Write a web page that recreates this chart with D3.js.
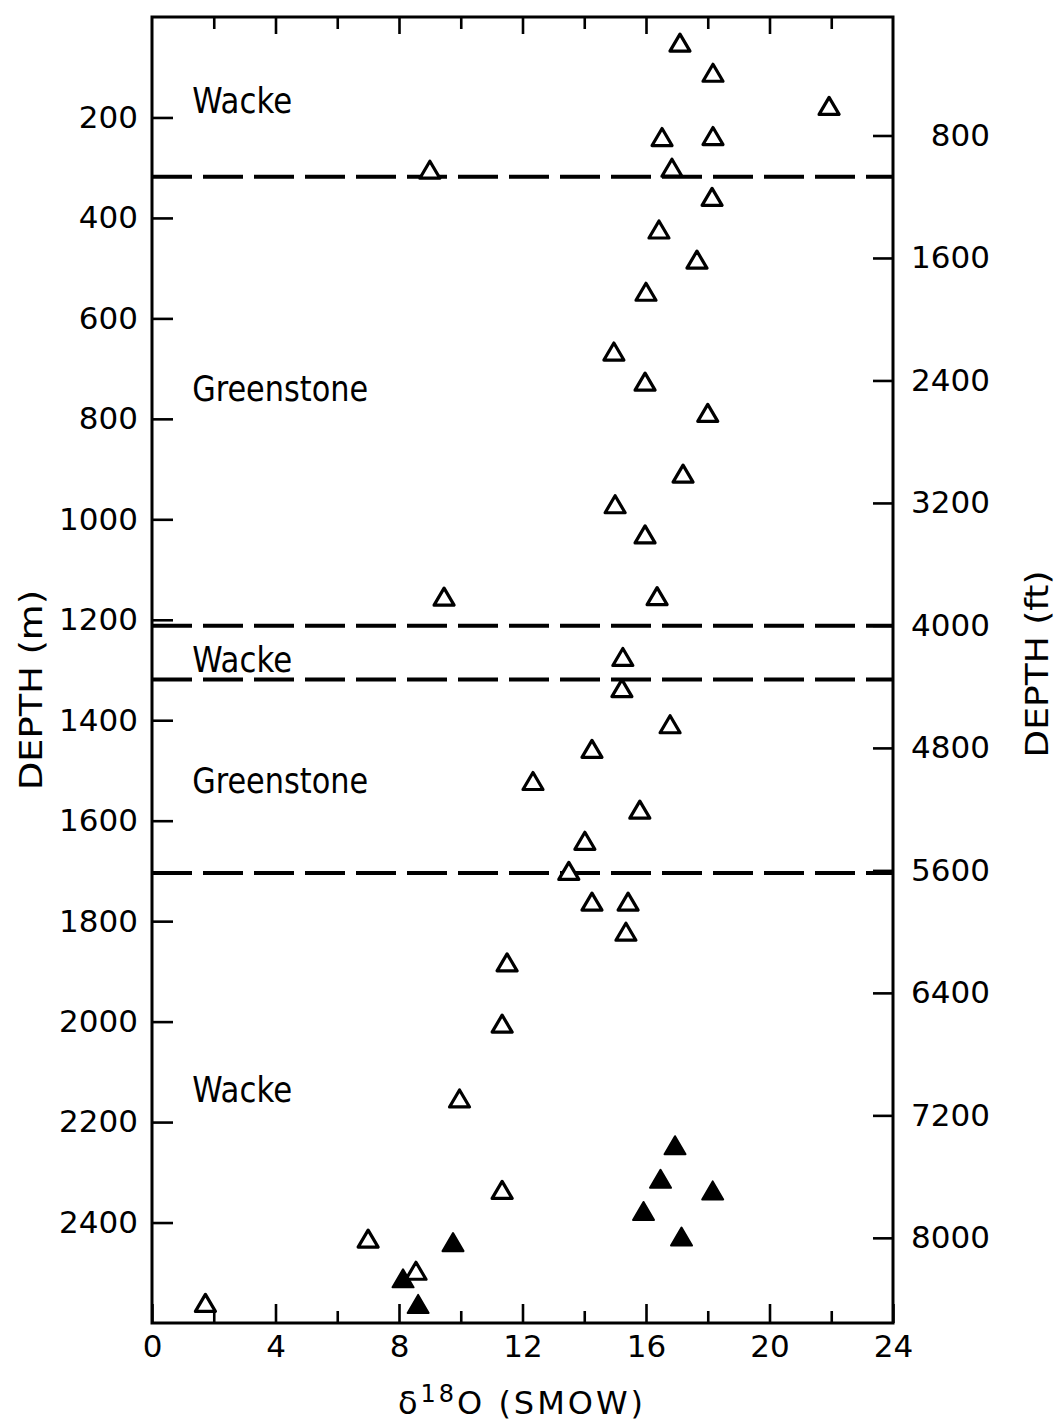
<!DOCTYPE html>
<html>
<head>
<meta charset="utf-8">
<script src="https://cdn.jsdelivr.net/npm/d3@7"></script>
<style>
  html, body { margin: 0; padding: 0; background: #fff; }
  svg { display: block; }
  text { font-family: "DejaVu Sans", "Noto Sans", sans-serif; fill: #000; }
</style>
</head>
<body>
<svg id="chart" width="1058" height="1426"></svg>
<script>
// δ18O (per mil, SMOW) versus depth (m) for core samples
const openD18O  = [17.1, 18.17, 21.93, 16.52, 18.17, 9.0, 16.84, 18.14, 16.42, 17.65, 16.0,
                   14.96, 15.97, 18.0, 17.2, 15.0, 15.97, 16.36, 9.46, 15.25, 15.22, 16.78,
                   14.25, 12.34, 15.8, 14.02, 13.5, 14.25, 15.42, 15.35, 11.5, 11.34, 9.96,
                   11.34, 7.0, 8.55, 1.73];
const openDepth = [51, 111, 177, 239, 237, 304, 300, 358, 423, 483, 547,
                   666, 726, 788, 909, 970, 1030, 1153, 1154, 1274, 1336, 1408,
                   1457, 1521, 1578, 1640, 1700, 1761, 1761, 1821, 1882, 2004, 2153,
                   2335, 2432, 2496, 2560];
const filledD18O  = [8.13, 8.62, 9.75, 16.94, 16.47, 18.16, 15.92, 17.15];
const filledDepth = [2511, 2562, 2439, 2246, 2313, 2336, 2377, 2428];

// Lithologic contacts (m) and unit names
const contactDepths = [318, 1212, 1319, 1704];
const unitNames  = ["Wacke", "Greenstone", "Wacke", "Greenstone", "Wacke"];
const unitDepths = [191, 764, 1304, 1545, 2160];
const unitD18O   = 1.3;

// Axis ticks
const xMajorTicks = [0, 4, 8, 12, 16, 20, 24];
const xMinorTicks = [2, 6, 10, 14, 18, 22];
const depthTicksM  = [200, 400, 600, 800, 1000, 1200, 1400, 1600, 1800, 2000, 2200, 2400];
const depthTicksFt = [800, 1600, 2400, 3200, 4000, 4800, 5600, 6400, 7200, 8000];

const svg = d3.select("#chart");
const plotL = 152, plotR = 893, plotT = 17, plotB = 1323;

const x = d3.scaleLinear().domain([0, 24]).range([plotL, plotR]);
const y = d3.scaleLinear().domain([0, 2600]).range([plotT, plotB]);
const yFt = d3.scaleLinear().domain([0, 2600 * 3.2808]).range([plotT - 4, plotB - 4]);

const tickFont = 31;

// bottom axis: major ticks with labels, minor ticks without
const gBottom = svg.append("g").attr("transform", `translate(0,${plotB})`)
  .call(d3.axisBottom(x).tickValues(xMajorTicks).tickSizeInner(-19).tickSizeOuter(0).tickPadding(12).tickFormat(d3.format("d")));
const gBottomMinor = svg.append("g").attr("transform", `translate(0,${plotB})`)
  .call(d3.axisBottom(x).tickValues(xMinorTicks).tickSizeInner(-12).tickSizeOuter(0).tickFormat(""));
// top axis: ticks only
const gTop = svg.append("g").attr("transform", `translate(0,${plotT})`)
  .call(d3.axisTop(x).tickValues(xMajorTicks.slice(1, -1)).tickSizeInner(-17).tickSizeOuter(0).tickFormat(""));
const gTopMinor = svg.append("g").attr("transform", `translate(0,${plotT})`)
  .call(d3.axisTop(x).tickValues(xMinorTicks).tickSizeInner(-12).tickSizeOuter(0).tickFormat(""));
// left depth axis (m)
const gLeft = svg.append("g").attr("transform", `translate(${plotL},0)`)
  .call(d3.axisLeft(y).tickValues(depthTicksM).tickSizeInner(-21).tickSizeOuter(0).tickPadding(14).tickFormat(d3.format("d")));
// right depth axis (ft)
const gRight = svg.append("g").attr("transform", `translate(${plotR},0)`)
  .call(d3.axisRight(yFt).tickValues(depthTicksFt).tickSizeInner(-20).tickSizeOuter(0).tickFormat(d3.format("d")));
gRight.selectAll(".tick text").attr("x", 97).attr("text-anchor", "end");

[gBottom, gBottomMinor, gTop, gTopMinor, gLeft, gRight].forEach(g => {
  g.select(".domain").remove();
  g.selectAll(".tick line").attr("stroke", "#000").attr("stroke-width", 2.6);
  g.selectAll(".tick text").attr("font-size", tickFont).attr("fill", "#000")
    .style("font-family", "'DejaVu Sans', sans-serif");
});

// plot frame
svg.append("rect")
  .attr("x", plotL).attr("y", plotT)
  .attr("width", plotR - plotL).attr("height", plotB - plotT)
  .attr("fill", "none").attr("stroke", "#000").attr("stroke-width", 3);

// contacts between units
svg.append("g").selectAll("line").data(contactDepths).join("line")
  .attr("x1", x(0)).attr("x2", x(24))
  .attr("y1", d => y(d)).attr("y2", d => y(d))
  .attr("stroke", "#000").attr("stroke-width", 4)
  .attr("stroke-dasharray", "40 11");

// unit names
const unitWidths = { "Wacke": 100, "Greenstone": 176 };
svg.append("g").selectAll("text").data(unitNames).join("text")
  .attr("x", x(unitD18O))
  .attr("y", (d, i) => y(unitDepths[i]))
  .attr("font-size", 36)
  .attr("textLength", d => unitWidths[d])
  .attr("lengthAdjust", "spacingAndGlyphs")
  .text(d => d);

// triangle marker centred on its bounding box
function triangle(w, h) {
  return `M0,${-h / 2}L${w / 2},${h / 2}L${-w / 2},${h / 2}Z`;
}

const openPts = openD18O.map((v, i) => ({ v, d: openDepth[i] }));
const filledPts = filledD18O.map((v, i) => ({ v, d: filledDepth[i] }));

svg.append("g").selectAll("path").data(openPts).join("path")
  .attr("transform", p => `translate(${x(p.v)},${y(p.d)})`)
  .attr("d", triangle(20, 17))
  .attr("fill", "#fff").attr("stroke", "#000")
  .attr("stroke-width", 3.2).attr("stroke-linejoin", "round");

svg.append("g").selectAll("path").data(filledPts).join("path")
  .attr("transform", p => `translate(${x(p.v)},${y(p.d)})`)
  .attr("d", triangle(21, 18))
  .attr("fill", "#000").attr("stroke", "#000")
  .attr("stroke-width", 2).attr("stroke-linejoin", "round");

// axis titles
svg.append("text")
  .attr("transform", `translate(42,690) rotate(-90)`)
  .attr("text-anchor", "middle")
  .attr("font-size", 32)
  .attr("textLength", 200).attr("lengthAdjust", "spacingAndGlyphs")
  .text("DEPTH (m)");

svg.append("text")
  .attr("transform", `translate(1048,664) rotate(-90)`)
  .attr("text-anchor", "middle")
  .attr("font-size", 32)
  .attr("textLength", 187).attr("lengthAdjust", "spacingAndGlyphs")
  .text("DEPTH (ft)");

const xTitle = svg.append("text")
  .attr("x", 522).attr("y", 1414)
  .attr("text-anchor", "middle")
  .attr("font-size", 32)
  .attr("letter-spacing", 3);
xTitle.append("tspan").text("δ");
xTitle.append("tspan").attr("font-size", 24).attr("dy", -12).text("18");
xTitle.append("tspan").attr("dy", 12).text("O (SMOW)");
</script>
</body>
</html>
